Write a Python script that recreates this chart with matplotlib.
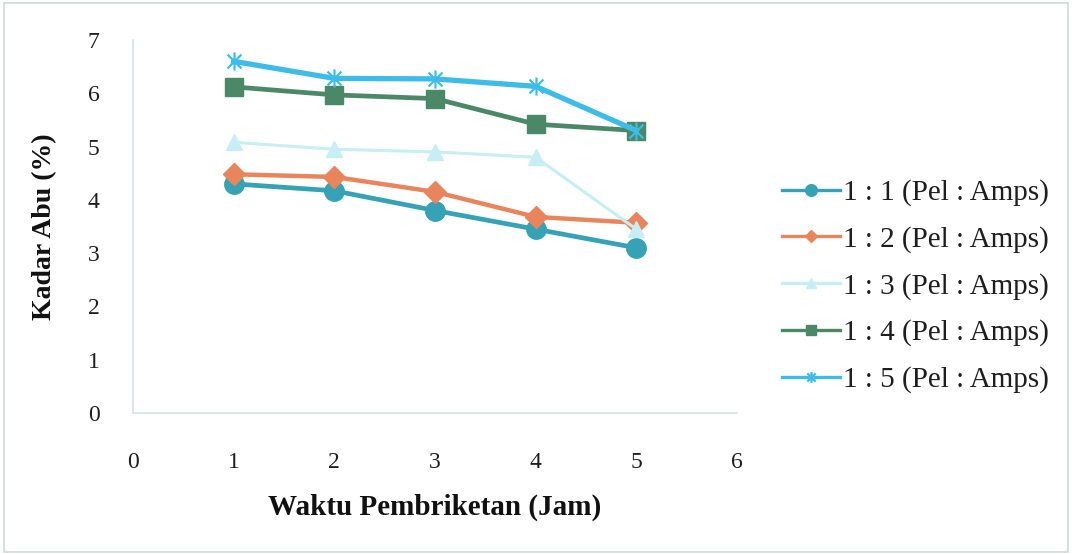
import numpy as np
import matplotlib.pyplot as plt
from matplotlib.patches import Rectangle
from matplotlib.path import Path

plt.rcParams['font.family'] = ['Liberation Serif', 'DejaVu Serif']

# waktu pembriketan (jam)
waktu = [1, 2, 3, 4, 5]

# kadar abu (%) tiap perbandingan pelepah : ampas
kadar_1_1 = [4.30, 4.17, 3.80, 3.45, 3.10]
kadar_1_2 = [4.48, 4.43, 4.15, 3.68, 3.57]
kadar_1_3 = [5.08, 4.95, 4.90, 4.80, 3.45]
kadar_1_4 = [6.12, 5.97, 5.90, 5.42, 5.30]
kadar_1_5 = [6.60, 6.28, 6.27, 6.13, 5.30]

labels = ['1 : 1 (Pel : Amps)', '1 : 2 (Pel : Amps)', '1 : 3 (Pel : Amps)',
          '1 : 4 (Pel : Amps)', '1 : 5 (Pel : Amps)']
xticks = [0, 1, 2, 3, 4, 5, 6]
yticks = [0, 1, 2, 3, 4, 5, 6, 7]

# marker bintang ala excel: silang + garis tegak
star = Path([(-1, -1), (1, 1), (-1, 1), (1, -1), (0, -1.3), (0, 1.3)],
            [Path.MOVETO, Path.LINETO] * 3)

fig = plt.figure(figsize=(10.72, 5.54), dpi=100)
ax = fig.add_axes([133 / 1072, 1 - 413 / 554, 604 / 1072, 373 / 554])

# garis luar bingkai grafik
fig.patches.append(Rectangle((0.004, 0.004), 0.992, 0.99, transform=fig.transFigure,
                             fill=False, edgecolor='#cfd8d8', linewidth=1.2))

ax.plot(waktu, kadar_1_1, '-o', color='#35a2b6', lw=3.4, ms=14, label=labels[0])
ax.plot(waktu, kadar_1_2, '-D', color='#e8855c', lw=3.2, ms=11, label=labels[1])
ax.plot(waktu, kadar_1_3, '-^', color='#c6eef4', lw=2.2, ms=12, label=labels[2])
ax.plot(waktu, kadar_1_4, '-s', color='#4b8868', lw=3.4, ms=13, label=labels[3])
ax.plot(waktu, kadar_1_5, '-', marker=star, color='#3dbce8', lw=3.8, ms=13, mew=1.6,
        label=labels[4])

ax.set_xlim(0, 6)
ax.set_ylim(0, 7)
ax.set_xticks(xticks)
ax.set_yticks(yticks)
ax.tick_params(length=0, labelsize=17, colors='#1e1e1e')
ax.tick_params(axis='x', pad=28)
ax.tick_params(axis='y', pad=24)

for side in ['top', 'right']:
    ax.spines[side].set_visible(False)
for side in ['left', 'bottom']:
    ax.spines[side].set_color('#d6e4e4')
    ax.spines[side].set_linewidth(1.2)

ax.set_xlabel('Waktu Pembriketan (Jam)', fontsize=21, fontweight='bold', labelpad=15,
              color='#111111')
ax.set_ylabel('Kadar Abu (%)', fontsize=20, fontweight='bold', labelpad=22,
              color='#111111')

leg = ax.legend(loc='center left', bbox_to_anchor=(1.055, 0.34), frameon=False,
                fontsize=21, handlelength=2.0, labelspacing=0.68, handletextpad=0.1,
                markerscale=0.6, borderaxespad=0)
for t in leg.get_texts():
    t.set_color('#1e1e1e')
for h in leg.get_lines():
    h.set_linewidth(2.4)

fig.savefig('out.png', dpi=100)
